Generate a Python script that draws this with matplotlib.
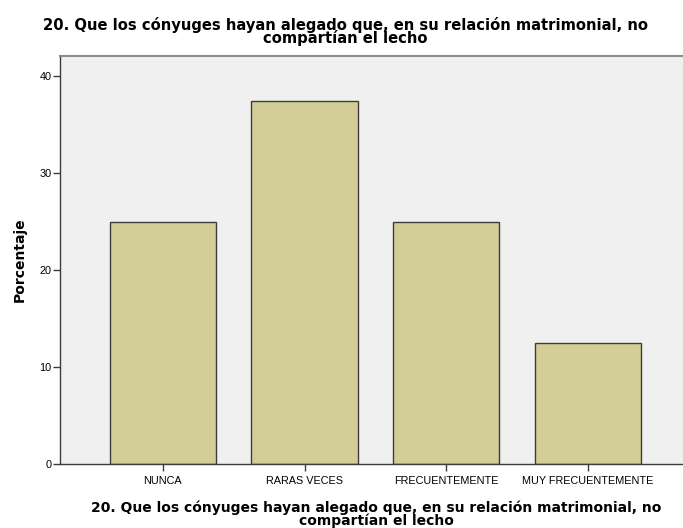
import numpy as np
import matplotlib.pyplot as plt

plt.rcParams['font.family'] = ['Liberation Sans', 'DejaVu Sans']

# Datos
categorias = ['NUNCA', 'RARAS VECES', 'FRECUENTEMENTE', 'MUY FRECUENTEMENTE']
porcentajes = [25.0, 37.5, 25.0, 12.5]
titulo = '20. Que los cónyuges hayan alegado que, en su relación matrimonial, no\ncompartían el lecho'

fig = plt.figure(figsize=(6.83, 5.28), dpi=100)
ax = fig.add_axes([60 / 683, 1 - 464 / 528, 1 - 60 / 683, (464 - 56) / 528])

x = np.arange(len(categorias))
ax.bar(x, porcentajes, width=0.75, color='#D3CE97', edgecolor='#3C3C3C', linewidth=1.0, zorder=2)

ax.set_facecolor('#F0F0F0')
ax.set_xlim(-0.725, 3.67)
ax.set_ylim(0, 42.1)
ax.set_yticks([0, 10, 20, 30, 40])
ax.set_xticks(x)
ax.set_xticklabels(categorias, fontsize=7.8)
ax.tick_params(axis='y', labelsize=7.8, length=5, width=1, color='#3C3C3C', pad=1)
ax.tick_params(axis='x', length=5, width=1, color='#3C3C3C', pad=4)

for s in ['left', 'bottom']:
    ax.spines[s].set_color('#3C3C3C')
    ax.spines[s].set_linewidth(1)
ax.spines['top'].set_color('#8C8C8C')
ax.spines['top'].set_linewidth(1.5)
ax.spines['right'].set_visible(False)

ax.set_ylabel('Porcentaje', fontsize=10, fontweight='bold', labelpad=9, family='DejaVu Sans')
ax.set_xlabel(titulo, fontsize=10, fontweight='bold', labelpad=10, linespacing=0.85,
              family='DejaVu Sans')
ax.xaxis.label.set_position((316 / 623, 0))

fig.text(345 / 683, 1 - 17 / 528, titulo, ha='center', va='top', fontsize=10.6,
         fontweight='bold', linespacing=0.8, family='DejaVu Sans')

fig.savefig('out.png', dpi=100)
